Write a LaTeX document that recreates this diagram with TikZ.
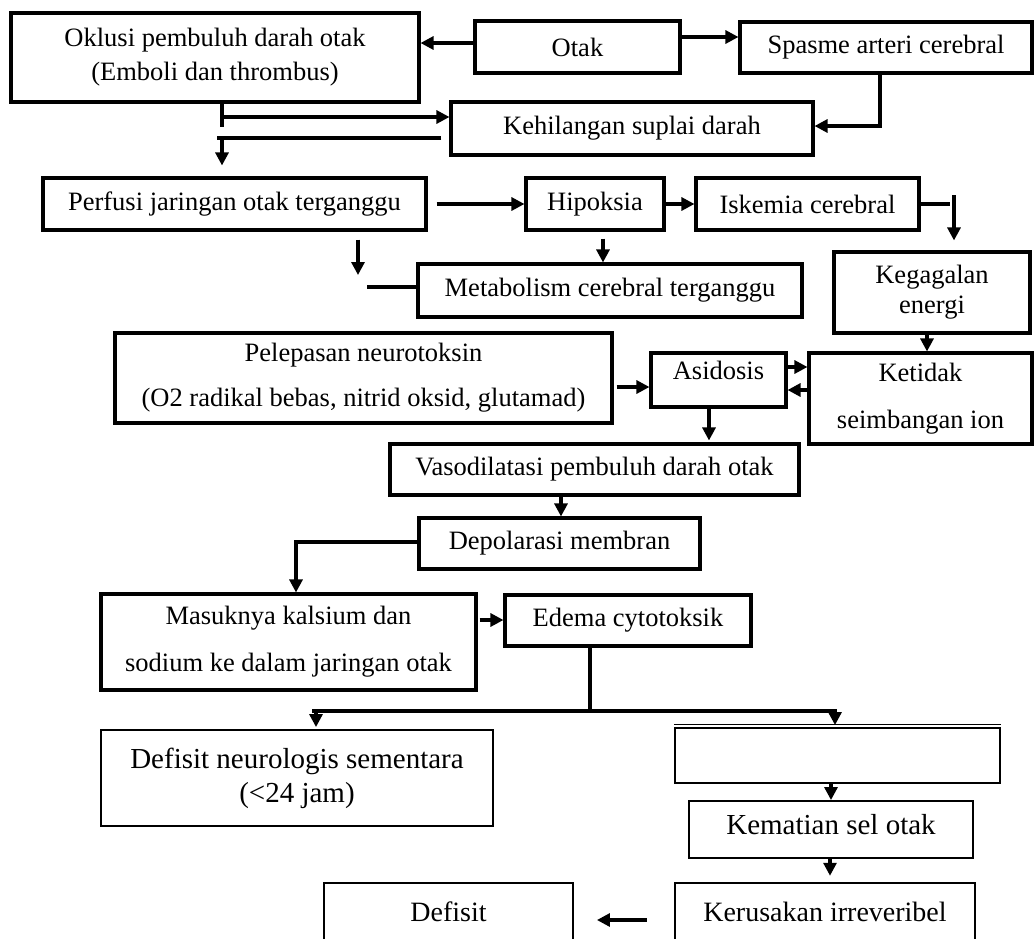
\documentclass[tikz,border=0pt]{standalone}
\usepackage{fontspec}
\setmainfont{Liberation Serif}
\usetikzlibrary{arrows.meta}
\begin{document}
\begin{tikzpicture}[x=1pt,y=-1pt,
  box/.style={draw, line width=3.1pt, inner sep=0pt, align=center, font=\fontsize{26.5}{32}\selectfont},
  thinbox/.style={box, line width=1.9pt},
  arr/.style={line width=3.1pt, -{Triangle[length=13pt,width=13pt]}},
  ln/.style={line width=3.1pt}]
\useasboundingbox (0,0) rectangle (1034,938);
\fill[white] (0,0) rectangle (1034,938);
% boxes
\node[box, minimum width=408pt, minimum height=89pt, font=\fontsize{26.5}{34}\selectfont] (okl) at (215,57.5) {Oklusi pembuluh darah otak\\(Emboli dan thrombus)};
\node[box, minimum width=205pt, minimum height=52pt] (otak) at (577.5,47) {Otak};
\node[box, minimum width=292pt, minimum height=51pt] (spa) at (886,47.5) {Spasme arteri cerebral};
\node[box, minimum width=362pt, minimum height=53pt] (keh) at (632,128.5) {Kehilangan suplai darah};
\node[box, minimum width=383pt, minimum height=52pt] (per) at (234.5,204) {Perfusi jaringan otak terganggu};
\node[box, minimum width=138pt, minimum height=52pt] (hip) at (595,204) {Hipoksia};
\node[box, minimum width=223pt, minimum height=52pt] (isk) at (807.5,204) {Iskemia cerebral};
\node[box, minimum width=384pt, minimum height=53pt] (met) at (610,290.5) {Metabolism cerebral terganggu};
\node[box, minimum width=196pt, minimum height=81pt, font=\fontsize{26.5}{30}\selectfont] (keg) at (932,292.5) {Kegagalan\\energi};
\node[box, minimum width=497pt, minimum height=90pt, font=\fontsize{26.5}{45}\selectfont] (pel) at (363.5,378) {Pelepasan neurotoksin\\(O2 radikal bebas, nitrid oksid, glutamad)};
\node[box, minimum width=135pt, minimum height=54pt] (asi) at (718.5,380) {\raisebox{10pt}[\height][\depth]{Asidosis}};
\node[box, minimum width=223pt, minimum height=91pt, font=\fontsize{26.5}{47}\selectfont] (ket) at (920.5,398.5) {Ketidak\\seimbangan ion};
\node[box, minimum width=409pt, minimum height=51pt] (vas) at (594.5,469.5) {Vasodilatasi pembuluh darah otak};
\node[box, minimum width=281pt, minimum height=51pt] (dep) at (559.5,543.5) {Depolarasi membran};
\node[box, minimum width=375pt, minimum height=96pt, font=\fontsize{26.5}{47}\selectfont] (mas) at (288.5,642) {Masuknya kalsium dan\\sodium ke dalam jaringan otak};
\node[box, minimum width=246pt, minimum height=51pt] (ede) at (628,620.5) {Edema cytotoksik};
\node[thinbox, minimum width=392pt, minimum height=96pt, font=\fontsize{29}{34}\selectfont] (dns) at (297,778) {Defisit neurologis sementara\\(<24 jam)};
\node[thinbox, minimum width=325pt, minimum height=55pt] (emp) at (837.5,755.5) {};
\node[thinbox, minimum width=284pt, minimum height=57pt, font=\fontsize{29}{34}\selectfont] (kem) at (831,829.5) {\raisebox{5pt}[\height][\depth]{Kematian sel otak}};
\node[box, line width=2.5pt, minimum width=300pt, minimum height=57pt, font=\fontsize{28}{34}\selectfont] (ker) at (825,911.5) {Kerusakan irreveribel};
\node[thinbox, minimum width=249pt, minimum height=57pt, font=\fontsize{28}{34}\selectfont] (def) at (448.5,911.5) {Defisit};
\draw[line width=0.9pt] ([yshift=3pt]emp.north west) -- ([yshift=3pt]emp.north east);
% connectors
\draw[arr] (otak.west |- 0,43) -- (okl.east |- 0,43);
\draw[arr] (otak.east |- 0,37) -- (spa.west |- 0,37);
\draw[arr] (spa.south -| 880,0) |- (keh.east |- 0,126);
\draw[ln] (okl.south -| 222,0) -- (222,127);
\draw[arr] (222,117) -- (keh.west |- 0,117);
\draw[ln] ([xshift=-8pt]keh.west |- 0,138) -- (217,138);
\draw[arr] (222,138) -- ([yshift=11pt]per.north -| 222,0);
\draw[arr] ([xshift=9pt]per.east) -- (hip.west);
\draw[arr] (hip.east) -- (isk.west);
\draw[ln] (isk.east) -- (950,204);
\draw[arr] (954,195) -- ([yshift=10pt]keg.north -| 954,0);
\draw[arr] ([yshift=-7pt]hip.south -| 603,0) -- (met.north -| 603,0);
\draw[arr] ([yshift=-8pt]per.south -| 358,0) -- (358,275);
\draw[ln] (367,287) -- (met.west |- 0,287);
\draw[arr] ([xshift=3pt]pel.east |- 0,387) -- (asi.west |- 0,387);
\draw[arr] (asi.east |- 0,367) -- (ket.west |- 0,367);
\draw[arr] (ket.west |- 0,390) -- (asi.east |- 0,390);
\draw[arr] (keg.south -| 927,0) -- (ket.north -| 927,0);
\draw[arr] (asi.south -| 709,0) -- ([yshift=2pt]vas.north -| 709,0);
\draw[arr] (vas.south -| 561,0) -- (dep.north -| 561,0);
\draw[arr] (dep.west |- 0,542) -| (mas.north -| 296,0);
\draw[arr] ([xshift=2pt]mas.east |- 0,620) -- (ede.west |- 0,620);
\draw[ln] (ede.south -| 590,0) -- (590,709);
\draw[line width=3.6pt] (312,711) -- (837,711);
\draw[arr] (316,711) -- ([yshift=2pt]dns.north -| 316,0);
\draw[arr] (835,711) -- ([yshift=2pt]emp.north -| 835,0);
\draw[arr] (emp.south -| 831,0) -- (kem.north -| 831,0);
\draw[arr] (kem.south -| 830,0) -- ([yshift=6pt]ker.north -| 830,0);
\draw[arr] ([xshift=-27pt]ker.west |- 0,920) -- ([xshift=23pt]def.east |- 0,920);
\end{tikzpicture}
\end{document}
